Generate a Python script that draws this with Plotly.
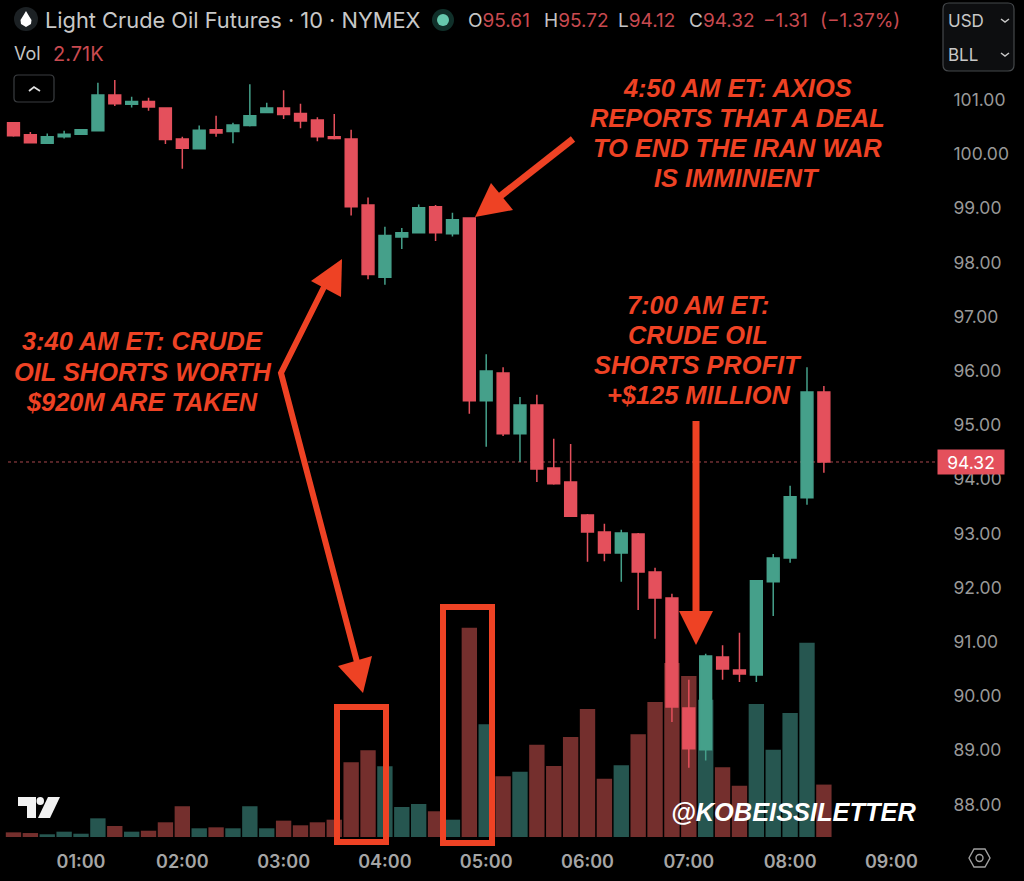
import plotly.graph_objects as go

TIMES = ["00:20","00:30","00:40","00:50","01:00","01:10","01:20","01:30","01:40","01:50",
         "02:00","02:10","02:20","02:30","02:40","02:50","03:00","03:10","03:20","03:30",
         "03:40","03:50","04:00","04:10","04:20","04:30","04:40","04:50","05:00","05:10",
         "05:20","05:30","05:40","05:50","06:00","06:10","06:20","06:30","06:40","06:50",
         "07:00","07:10","07:20","07:30","07:40","07:50","08:00","08:10","08:20"]
OPEN = [100.58,100.36,100.20,100.32,100.37,100.43,101.09,100.92,100.97,100.85,
        100.28,100.10,100.45,100.42,100.53,100.77,100.85,100.75,100.63,100.32,
        100.28,99.06,97.73,98.47,98.55,99.03,98.53,98.82,95.45,95.96,
        94.84,95.37,94.21,93.95,93.34,93.03,92.64,92.99,92.29,91.81,
        89.78,89.01,90.72,90.48,90.39,92.11,92.55,93.66,95.61]
HIGH = [100.58,100.41,100.38,100.43,100.46,101.32,101.37,101.06,101.04,100.85,
        100.32,100.53,100.71,100.58,101.29,100.95,101.18,100.93,100.68,100.74,
        100.45,99.20,98.66,98.64,99.07,99.06,98.92,98.82,96.31,96.07,
        95.52,95.56,94.75,94.65,93.36,93.18,93.07,93.01,92.37,91.89,
        90.30,90.78,90.94,91.17,92.13,92.62,93.88,96.07,95.72]
LOW = [100.32,100.20,100.20,100.29,100.36,100.42,100.89,100.86,100.80,100.19,
       99.73,100.10,100.32,100.20,100.51,100.77,100.65,100.48,100.24,100.27,
       98.87,97.69,97.59,98.25,98.55,98.40,98.48,95.21,94.60,94.80,
       94.32,93.95,93.90,93.31,92.48,92.49,92.11,91.59,91.06,89.52,
       88.68,88.81,90.30,90.26,90.26,91.48,92.46,93.53,94.12]
CLOSE = [100.34,100.21,100.32,100.37,100.45,101.09,100.93,100.97,100.87,100.27,
         100.11,100.44,100.39,100.54,100.71,100.85,100.73,100.61,100.32,100.29,
         99.03,97.78,98.50,98.55,99.01,98.55,98.79,95.45,96.00,94.84,
         95.37,94.19,93.92,93.32,93.03,92.64,93.01,92.29,91.81,89.80,
         89.03,90.74,90.50,90.41,92.13,92.55,93.68,95.61,94.32]
VOLUME = [240,205,140,275,170,965,570,275,325,760,
          1590,450,500,450,1590,450,845,605,760,895,
          3860,4480,3655,1550,1705,1330,895,10820,5825,3140,
          3375,4770,3670,5170,6620,3015,3705,5310,6980,9000,
          8320,7100,3600,2650,6875,4510,6410,10045,2710]
PRICE_TICKS = [88,89,90,91,92,93,94,95,96,97,98,99,100,101]
TIME_TICKS = ["01:00","02:00","03:00","04:00","05:00","06:00","07:00","08:00","09:00"]
DAY = "2026-03-02 "

RED = "#e4505c"; GREEN = "#45a08a"
VOL_RED = "#742f2d"; VOL_GREEN = "#265650"
ANN = "#ee4224"
W, H = 1024, 881

def px(x): return x / W
def py(y): return 1 - y / H
def path(pts, close=True):
    s = "M " + " L ".join(f"{px(x):.5f} {py(y):.5f}" for x, y in pts)
    return s + (" Z" if close else "")
def rounded(x0, y0, x1, y1, r):
    p = lambda a, b: f"{px(a):.5f} {py(b):.5f}"
    return (f"M {p(x0+r,y0)} L {p(x1-r,y0)} Q {p(x1,y0)} {p(x1,y0+r)} L {p(x1,y1-r)} Q {p(x1,y1)} {p(x1-r,y1)} "
            f"L {p(x0+r,y1)} Q {p(x0,y1)} {p(x0,y1-r)} L {p(x0,y0+r)} Q {p(x0,y0)} {p(x0+r,y0)} Z")

x = [DAY + t for t in TIMES]
fig = go.Figure()
fig.add_trace(go.Bar(x=x, y=VOLUME, yaxis="y", xaxis="x",
    marker=dict(color=[VOL_GREEN if c >= o else VOL_RED for o, c in zip(OPEN, CLOSE)], line_width=0),
    hoverinfo="skip", showlegend=False))
fig.add_trace(go.Candlestick(x=x, open=OPEN, high=HIGH, low=LOW, close=CLOSE, yaxis="y2", xaxis="x",
    increasing=dict(line=dict(color=GREEN, width=1.5), fillcolor=GREEN),
    decreasing=dict(line=dict(color=RED, width=1.5), fillcolor=RED),
    whiskerwidth=0, hoverinfo="skip", showlegend=False))

shapes = []
def poly(pts, fill=ANN):
    shapes.append(dict(type="path", xref="paper", yref="paper", path=path(pts), fillcolor=fill, line=dict(width=0), layer="above"))
def stroke(pts, color=ANN, width=6, close=False, fill=None):
    shapes.append(dict(type="path", xref="paper", yref="paper", path=path(pts, close), line=dict(color=color, width=width),
                       fillcolor=fill or "rgba(0,0,0,0)", layer="above"))
def rbox(x0, y0, x1, y1, r, color, fill="rgba(0,0,0,0)"):
    shapes.append(dict(type="path", xref="paper", yref="paper", path=rounded(x0, y0, x1, y1, r), line=dict(color=color, width=1.2),
                       fillcolor=fill, layer="above"))

# last price line
shapes.append(dict(type="line", xref="paper", yref="y2", x0=px(8), x1=px(938), y0=CLOSE[-1], y1=CLOSE[-1],
                   line=dict(color="#a8474d", width=1, dash="dot"), layer="below"))
# arrows
stroke([(573,139),(498,198)], width=7)
poly([(475,217),(491,183),(513,210)])
stroke([(325,285),(281,373),(357,662)], width=6)
poly([(342,259),(311,281),(341,297)])
poly([(363,693),(338,666),(372,656)])
stroke([(696,421),(696,612)], width=7)
poly([(679,611),(713,611),(696,645)])
# highlight boxes
stroke([(337,707),(386,707),(386,842),(337,842)], width=6, close=True)
stroke([(443,607),(492,607),(492,843),(443,843)], width=6, close=True)

# header icons
shapes.append(dict(type="circle", xref="paper", yref="paper", x0=px(14), x1=px(38), y0=py(31), y1=py(7), fillcolor="#1c2124", line_width=0, layer="above"))
poly([(26,11),(29,16),(31.5,20),(31,24),(26,27),(21,24),(20.5,20),(23,16)], fill="#ffffff")
shapes.append(dict(type="circle", xref="paper", yref="paper", x0=px(432), x1=px(454), y0=py(31), y1=py(9), fillcolor="#10302a", line_width=0, layer="above"))
shapes.append(dict(type="circle", xref="paper", yref="paper", x0=px(437), x1=px(449), y0=py(26), y1=py(14), fillcolor="#66c9ae", line_width=0, layer="above"))
# collapse button
rbox(14, 75, 54, 102, 4, "#3a3d40")
stroke([(29,91),(34,87),(40,91)], color="#e0e0e0", width=1.8)
# unit box
rbox(943, 3, 1014, 71, 6, "#45484b", "#0d0e10")
stroke([(1001,19),(1005,22),(1009,19)], color="#c8c8c8", width=1.5)
stroke([(1001,53),(1005,56),(1009,53)], color="#c8c8c8", width=1.5)
# TV logo
poly([(18,797),(36,797),(36,818),(27,818),(27,806),(18,806)], fill="#f2f2f2")
poly([(48,797),(60,797),(50,818),(38,818)], fill="#f2f2f2")
shapes.append(dict(type="circle", xref="paper", yref="paper", x0=px(36.5), x1=px(44), y0=py(805), y1=py(797), fillcolor="#f2f2f2", line_width=0, layer="above"))
# settings hexagon
stroke([(969,858),(974,849),(985,849),(990,858),(985,867),(974,867)], color="#a0a0a0", width=1.4, close=True)
shapes.append(dict(type="circle", xref="paper", yref="paper", x0=px(976), x1=px(983), y0=py(861.5), y1=py(854.5), fillcolor="rgba(0,0,0,0)", line=dict(color="#a0a0a0", width=1.4), layer="above"))

anns = []
def text(t, x_, y_, size, color, family="Inter", anchor="left", bold=False, italic=False):
    if bold: t = f"<b>{t}</b>"
    if italic: t = f"<i>{t}</i>"
    anns.append(dict(text=t, x=px(x_), y=py(y_), xref="paper", yref="paper", xanchor=anchor, yanchor="middle",
                     showarrow=False, font=dict(size=size, color=color, family=family), borderpad=0, borderwidth=0))

LINES1 = ["4:50 AM ET: AXIOS","REPORTS THAT A DEAL","TO END THE IRAN WAR","IS IMMINIENT"]
LINES2 = ["3:40 AM ET: CRUDE","OIL SHORTS WORTH","$920M ARE TAKEN"]
LINES3 = ["7:00 AM ET:","CRUDE OIL","SHORTS PROFIT","+$125 MILLION"]
AF = "Liberation Sans"
for i, t in enumerate(LINES1): text(t, 737, 88 + 30*i, 25.4, ANN, AF, "center", True, True)
for i, t in enumerate(LINES2): text(t, 142, 341 + 30.5*i, 25.4, ANN, AF, "center", True, True)
for i, t in enumerate(LINES3): text(t, 698, 305 + 30*i, 25.4, ANN, AF, "center", True, True)
text("@KOBEISSILETTER", 793, 812, 25.4, "#ffffff", AF, "center", True, True)

GR = "#c4c4c4"; RV = "#c94a50"
text("Light Crude Oil Futures · 10 · NYMEX", 45, 20, 21.8, "#c8c8c8")
for lab, val, xpos in [("O","95.61",468),("H","95.72",544),("L","94.12",618),("C","94.32",689)]:
    text(f'<span style="color:{GR}">{lab}</span>{val}', xpos, 20, 19, RV)
text("−1.31", 763, 20, 19, RV)
text("(−1.37%)", 820, 20, 19, RV)
text("Vol", 14, 54, 18, GR)
text("2.71K", 53, 54, 20, RV)
text("USD", 948, 21, 17, "#c8c8c8")
text("BLL", 948, 55, 17, "#c8c8c8")

anns.append(dict(text=f"{CLOSE[-1]:.2f}", x=px(971), xref="paper", y=CLOSE[-1], yref="y2", showarrow=False, xanchor="center", yanchor="middle",
                 width=66, height=24, bgcolor=RED, font=dict(size=17.5, color="#ffffff", family="Inter"), borderpad=0))

fig.update_layout(
    width=W, height=H, autosize=False, margin=dict(l=0, r=0, t=0, b=0),
    paper_bgcolor="#000000", plot_bgcolor="#000000",
    showlegend=False, bargap=0.09, boxgap=0,
    font=dict(family="Inter", color="#a0a0a0"),
    xaxis=dict(type="date", domain=[0, 933/W], range=[DAY + "00:12:01", DAY + "09:24:38"], anchor="y",
               tickvals=[DAY + t for t in TIME_TICKS], ticktext=TIME_TICKS, ticks="outside", ticklen=8,
               tickcolor="rgba(0,0,0,0)", tickfont=dict(size=18, color="#a5a5a5", family="Inter", weight=600),
               showgrid=False, zeroline=False, showline=False, rangeslider=dict(visible=False), automargin=False),
    yaxis=dict(domain=[44/H, 1], range=[0, 43270], visible=False, showgrid=False, zeroline=False, fixedrange=True),
    yaxis2=dict(domain=[44/H, 1], range=[87.40, 102.845], overlaying="y", side="right", anchor="x",
                tickvals=PRICE_TICKS, ticktext=[f"{v:.2f}" for v in PRICE_TICKS], ticks="outside", ticklen=16,
                tickcolor="rgba(0,0,0,0)", tickfont=dict(size=17.5, color="#999999", family="Inter"),
                showgrid=False, zeroline=False, showline=False, automargin=False),
    shapes=shapes, annotations=anns,
)
fig.write_html("out.html", config=dict(displayModeBar=False),
               post_script="document.body.style.margin='0';document.body.style.background='#000';")
